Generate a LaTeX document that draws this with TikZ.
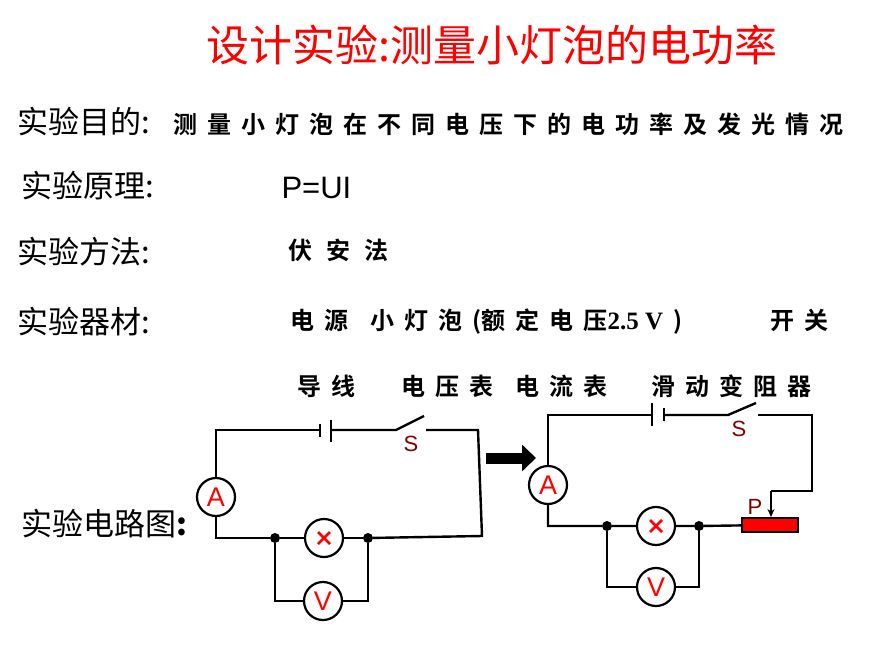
\documentclass[tikz,border=0pt]{standalone}
\usepackage{fontspec}
\setmainfont{Liberation Sans}
\newfontfamily\cjk{Noto Sans CJK SC}
\newfontfamily\cjkb{Noto Sans CJK SC Bold}
\usetikzlibrary{arrows.meta}
\newcommand\gq{\hspace{10pt}}
\begin{document}
\begin{tikzpicture}[x=1pt,y=-1pt,
  w/.style={line width=2.4pt,black},
  meter/.style={circle,draw,line width=2.2pt,minimum size=38pt,inner sep=0pt,text=red,font=\fontsize{27}{27}\selectfont,fill=white},
  lamp/.style={circle,draw,line width=2.2pt,minimum size=38pt,inner sep=0pt,fill=white},
  dotj/.style={circle,fill=black,inner sep=0pt,minimum size=10pt},
  lab/.style={anchor=west,font=\cjk\fontsize{31}{31}\selectfont},
  cont/.style={anchor=west,font=\cjkb\fontsize{24}{24}\selectfont},
  slab/.style={text=red!50!black,font=\fontsize{22}{22}\selectfont}]
\useasboundingbox (0,0) rectangle (870,653);
\node[text=red,font=\cjk\fontsize{43}{43}\selectfont] (title) at (492,45) {设计实验:测量小灯泡的电功率};
\node[lab] (l1) at (14,122) {实验目的:};
\node[cont] (c1) at (170,124) {测\gq 量\gq 小\gq 灯\gq 泡\gq 在\gq 不\gq 同\gq 电\gq 压\gq 下\gq 的\gq 电\gq 功\gq 率\gq 及\gq 发\gq 光\gq 情\gq 况};
\node[lab] (l2) at (18,186) {实验原理:};
\node[anchor=west,font=\fontsize{31}{31}\selectfont] (c2) at (278,188) {P=UI};
\node[lab] (l3) at (14,252) {实验方法:};
\node[cont] (c3) at (285,250) {伏\hspace{14pt}安\hspace{14pt}法};
\node[lab] (l4) at (14,322) {实验器材:};
\node[cont] (c4) at (287,322) {电\gq 源\hspace{22pt}小\gq 灯\gq 泡\gq (额\gq 定\gq 电\gq 压{\bfseries\fontspec{Liberation Serif}\fontsize{25}{25}\selectfont 2.5 V}\gq )\hspace{88pt}开\gq 关};
\node[cont] (c5) at (294,386) {导\gq 线\hspace{46pt}电\gq 压\gq 表\hspace{22pt}电\gq 流\gq 表\hspace{44pt}滑\gq 动\gq 变\gq 阻\gq 器};
\node[lab] (l5) at (18,524) {实验电路图\textbf{:}};
% left circuit
\node[meter] (A1) at (216,497) {A};
\node[lamp] (L1) at (324,538) {};
\node[meter] (V1) at (323,601) {V};
\node[dotj] (d1) at (275,538) {};
\node[dotj] (d2) at (368,538) {};
\coordinate (tl1) at (216,430);
\coordinate (tr1) at (478,430);
\coordinate (br1) at (482,536);
\coordinate (bl1) at (216,538);
\draw[w] (A1) -- (tl1) -- (320,430);
\draw[w] (320,424) -- (320,437);
\draw[w] (331,420) -- (331,442);
\draw[w] (331,430) -- (396,430) -- (424,416);
\draw[w] (426,430) -- (tr1) -- (br1) -- (d2);
\draw[w] (A1) -- (bl1) -- (d1) -- (L1) -- (d2);
\draw[w] (d1) -- (275,601) -- (V1) -- (368,601) -- (d2);
\node[slab] (S1) at (411,444) {S};
\draw[red,line width=2.8pt] (L1.center)++(-6,-6) -- ++(12,12) (L1.center)++(6,-6) -- ++(-12,12);
% arrow
\coordinate (a0) at (486,458);
\coordinate (a1) at (536,458);
\draw[line width=11pt,-{Triangle[length=14pt,width=26pt]}] (a0) -- (a1);
% right circuit
\node[meter] (A2) at (548,485) {A};
\node[lamp] (L2) at (656,526) {};
\node[meter] (V2) at (656,587) {V};
\node[dotj] (d3) at (607,526) {};
\node[dotj] (d4) at (699,526) {};
\node[draw,line width=2pt,fill=red,minimum width=56pt,minimum height=14pt,inner sep=0pt] (R) at (770,525) {};
\draw[w] (A2) -- (548,415) -- (652,415);
\draw[w] (652,403) -- (652,426);
\draw[w] (664,408) -- (664,421);
\draw[w] (664,415) -- (728,415) -- (756,403);
\draw[w] (758,415) -- (812,415) -- (812,491) -- (771,491);
\draw[w,-{Stealth[length=8pt,width=7pt]}] (771,491) -- (R.north -| 771,0);
\draw[w] (A2) -- (548,526) -- (d3) -- (L2) -- (d4) -- (R);
\draw[w] (d3) -- (607,587) -- (V2) -- (699,587) -- (d4);
\node[slab] (S2) at (739,429) {S};
\node[slab] (P) at (755,507) {P};
\draw[red,line width=2.8pt] (L2.center)++(-6,-6) -- ++(12,12) (L2.center)++(6,-6) -- ++(-12,12);
\end{tikzpicture}
\end{document}
